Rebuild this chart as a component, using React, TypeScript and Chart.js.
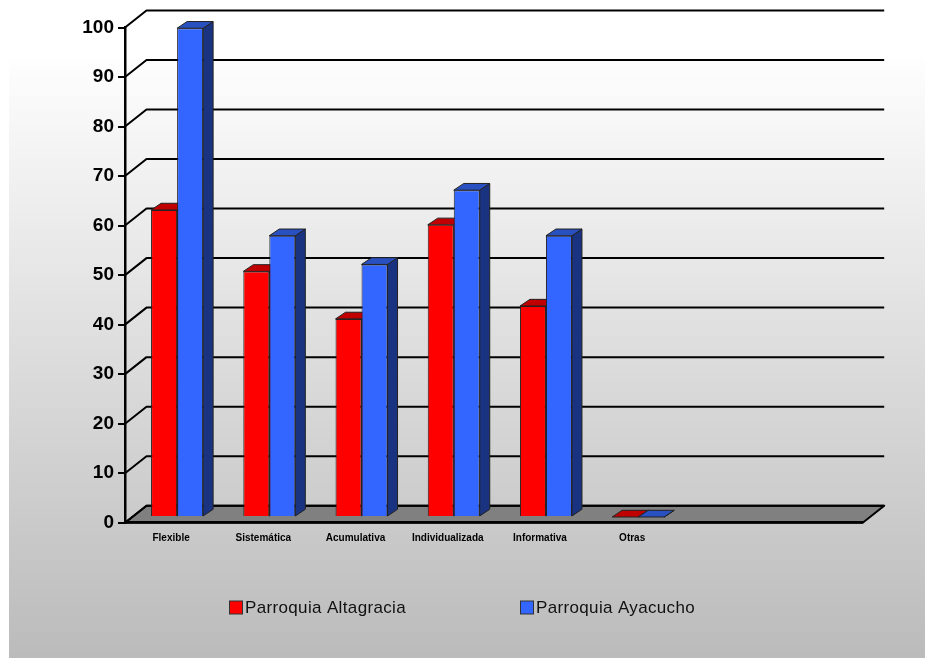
import React, { useEffect, useRef } from "react";
import { Chart, registerables } from "chart.js";

Chart.register(...registerables);

const categories = ["Flexible", "Sistemática", "Acumulativa", "Individualizada", "Informativa", "Otras", "", ""];
const altagracia = [62, 49.6, 40, 59, 42.6, 0, null, null];
const ayacucho = [98.7, 56.8, 51, 66, 56.8, 0, null, null];
const seriesNames = ["Parroquia Altagracia", "Parroquia Ayacucho"];

const FRONT_COLORS = ["#ff0000", "#3366ff"];
const SIDE_COLORS = ["#800000", "#1a3380"];
const TOP_COLORS = ["#c00000", "#2850c0"];
const FONT = '"Liberation Sans", Arial, sans-serif';

// depth of the pseudo-3D box and of the bars standing in the middle of it
const WALL_DX = 21.5;
const WALL_DY = 17;
const BAR_SHIFT_X = 6;
const BAR_SHIFT_Y = 5.7;
const BAR_DX = 10;
const BAR_DY = 6.7;

const poly = (ctx: CanvasRenderingContext2D, pts: number[][], fill: string | null, stroke: string, lw: number) => {
  ctx.beginPath();
  pts.forEach((p, i) => (i ? ctx.lineTo(p[0], p[1]) : ctx.moveTo(p[0], p[1])));
  ctx.closePath();
  if (fill) {
    ctx.fillStyle = fill;
    ctx.fill();
  }
  ctx.strokeStyle = stroke;
  ctx.lineWidth = lw;
  ctx.lineJoin = "round";
  ctx.stroke();
};

const scene3d = {
  id: "scene3d",
  beforeDraw(chart: any) {
    const { ctx, chartArea, scales, width, height } = chart;
    const { left, right, bottom } = chartArea;
    ctx.save();
    const g = ctx.createLinearGradient(0, 58, 0, height);
    g.addColorStop(0, "#fefefe");
    g.addColorStop(1, "#bbbbbb");
    ctx.fillStyle = "#ffffff";
    ctx.fillRect(0, 0, width, height);
    ctx.fillStyle = g;
    ctx.fillRect(9, 58, width - 9, height - 58);

    // floor
    poly(
      ctx,
      [
        [left, bottom],
        [right, bottom],
        [right + WALL_DX, bottom - WALL_DY],
        [left + WALL_DX, bottom - WALL_DY],
      ],
      "#808080",
      "#000000",
      2,
    );

    // wall lines follow the value axis
    ctx.strokeStyle = "#000000";
    ctx.lineWidth = 2;
    scales.y.ticks.forEach((t: any) => {
      const y = scales.y.getPixelForValue(t.value);
      ctx.beginPath();
      ctx.moveTo(left, y);
      ctx.lineTo(left + WALL_DX, y - WALL_DY);
      ctx.lineTo(right + WALL_DX, y - WALL_DY);
      ctx.stroke();
    });
    ctx.restore();
  },
  beforeDatasetsDraw(chart: any) {
    const { ctx } = chart;
    ctx.save();
    ctx.translate(BAR_SHIFT_X, -BAR_SHIFT_Y);
    [0, 1].forEach((d) => {
      chart.getDatasetMeta(d).data.forEach((bar: any, i: number) => {
        if (chart.data.datasets[d].data[i] === null) return;
        const { x, y, base, width } = bar.getProps(["x", "y", "base", "width"], true);
        const l = x - width / 2;
        const r = x + width / 2;
        poly(
          ctx,
          [
            [r, y],
            [r + BAR_DX, y - BAR_DY],
            [r + BAR_DX, base - BAR_DY],
            [r, base],
          ],
          SIDE_COLORS[d],
          "#222222",
          1,
        );
        poly(
          ctx,
          [
            [l, y],
            [l + BAR_DX, y - BAR_DY],
            [r + BAR_DX, y - BAR_DY],
            [r, y],
          ],
          TOP_COLORS[d],
          "#222222",
          1,
        );
      });
    });
  },
  afterDatasetsDraw(chart: any) {
    chart.ctx.restore();
  },
  afterDraw(chart: any) {
    const { ctx } = chart;
    const markerX = [229.5, 520.5];
    ctx.save();
    chart.data.datasets.forEach((ds: any, i: number) => {
      ctx.fillStyle = FRONT_COLORS[i];
      ctx.strokeStyle = "#333333";
      ctx.lineWidth = 1;
      ctx.fillRect(markerX[i], 601, 13, 13);
      ctx.strokeRect(markerX[i], 601, 13, 13);
      ctx.fillStyle = "#111111";
      ctx.font = `17px ${FONT}`;
      ctx.letterSpacing = "0.35px";
      ctx.textBaseline = "alphabetic";
      ctx.textAlign = "left";
      ctx.fillText(ds.label, markerX[i] + 15.5, 612.5);
    });
    ctx.restore();
  },
};

export default function App() {
  const ref = useRef<HTMLCanvasElement>(null);
  useEffect(() => {
    const chart = new Chart(ref.current as HTMLCanvasElement, {
      type: "bar",
      data: {
        labels: categories,
        datasets: [
          {
            label: seriesNames[0],
            data: altagracia,
            backgroundColor: FRONT_COLORS[0],
            borderColor: "#222222",
            borderWidth: 1,
            clip: false,
          },
          {
            label: seriesNames[1],
            data: ayacucho,
            backgroundColor: FRONT_COLORS[1],
            borderColor: "#222222",
            borderWidth: 1,
            clip: false,
          },
        ],
      } as any,
      plugins: [scene3d],
      options: {
        animation: false,
        responsive: false,
        maintainAspectRatio: false,
        layout: { padding: { left: 0, top: 27.5, right: 62.3, bottom: 95.3 } },
        datasets: { bar: { categoryPercentage: 0.564, barPercentage: 1 } },
        plugins: { legend: { display: false }, tooltip: { enabled: false } },
        scales: {
          x: {
            afterFit: (s: any) => {
              s.height = 40;
            },
            grid: { display: false },
            border: { display: true, color: "#000000", width: 2.5 },
            ticks: {
              autoSkip: false,
              maxRotation: 0,
              padding: 2,
              color: "#000000",
              font: { family: FONT, size: 10, weight: "bold" },
            },
          },
          y: {
            min: 0,
            max: 100,
            afterFit: (s: any) => {
              s.width = 125;
            },
            grid: { drawOnChartArea: false, color: "#000000", lineWidth: 2, tickLength: 7 },
            border: { display: true, color: "#000000", width: 2.5 },
            ticks: {
              stepSize: 10,
              padding: 4,
              color: "#000000",
              font: { family: FONT, size: 19, weight: "bold" },
            },
          },
        },
      } as any,
    });
    return () => chart.destroy();
  }, []);
  return (
    <div style={{ position: "absolute", left: 0, top: 0, width: 925, height: 658 }}>
      <canvas ref={ref} width={925} height={658} style={{ display: "block" }} />
    </div>
  );
}
